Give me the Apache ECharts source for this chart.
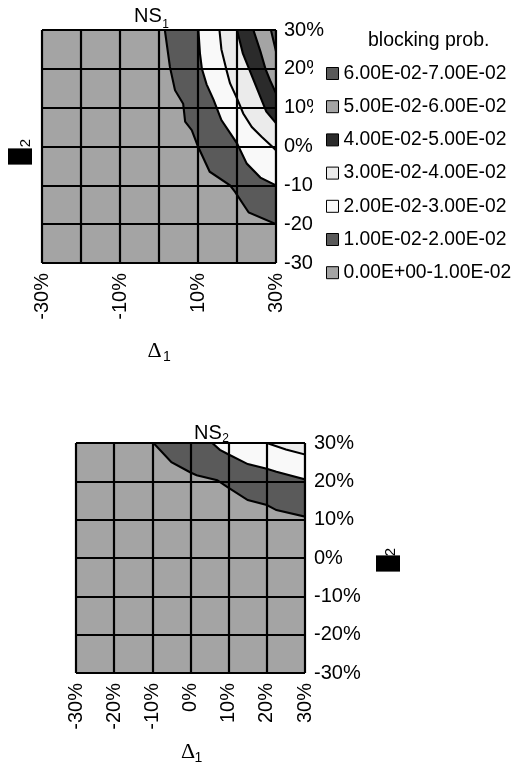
<!DOCTYPE html>
<html>
<head>
<meta charset="utf-8">
<script src="https://cdn.jsdelivr.net/npm/echarts@6/dist/echarts.min.js"></script>
<style>
html,body{margin:0;padding:0;background:#fff;}
#c{width:519px;height:766px;}
</style>
</head>
<body>
<div id="c"></div>
<script>
// ---- data ----
const bandNames = ['0.00E+00-1.00E-02','1.00E-02-2.00E-02','2.00E-02-3.00E-02','3.00E-02-4.00E-02','4.00E-02-5.00E-02','5.00E-02-6.00E-02','6.00E-02-7.00E-02'];
const bandColors = ['#a4a4a4','#5a5a5a','#f9f9f9','#ebebeb','#2b2b2b','#a4a4a4','#5a5a5a'];
const axisMin = -30, axisMax = 30, axisStep = 10;
const tickValues = [-30,-20,-10,0,10,20,30];
const ns1XLabels = ['-30%','','-10%','','10%','','30%'];
const ns2XLabels = ['-30%','-20%','-10%','0%','10%','20%','30%'];
const yLabels = ['-30%','-20%','-10%','0%','10%','20%','30%'];
// contour boundary lines (Δ1 %, Δ2 %) — level k separates band k-1 and band k
const ns1_b1 = [[1.5,30],[2.8,20.5],[4.1,14.5],[6.2,11],[6.7,6.4],[8.4,4.2],[10,0],[13,-6.5],[18.2,-10],[19.5,-11.7],[23,-17],[30,-20]];
const ns1_b2 = [[10.1,30],[10.5,24],[11,20],[12.2,16],[14,12],[16,6.8],[20,0.8],[22.5,-4.4],[26,-8],[30,-10]];
const ns1_b3 = [[15.5,30],[16,25],[17.4,19.3],[18.2,16.3],[20,12.4],[21.6,8.5],[23.8,5],[26.3,2.5],[29,0],[30,-1]];
const ns1_b4 = [[20,30],[21.5,24],[23.3,19.5],[25.5,14],[27.5,9],[30,6]];
const ns1_b5 = [[24.2,30],[26,24.5],[27.3,20],[28.5,17],[30,13.7]];
const ns1_b6 = [[28.7,30],[30,24.5]];
const ns2_b1 = [[-9.7,30],[-5,25],[0,22.3],[1.6,21.6],[7,20.3],[9.5,18.6],[15,15.1],[20,13.8],[22.5,12.5],[30,10.8]];
const ns2_b2 = [[5.7,30],[7.7,28.2],[10,27],[15,24.5],[20,23.3],[22.5,22.5],[30,20.5]];
const ns2_b3 = [[20,30],[25,28.3],[30,27]];

const FONT = "'Liberation Sans', Arial, sans-serif";
const SERIF = "'Liberation Serif', 'Times New Roman', serif";

function makeSeries(g, band, poly) {
  return {
    type: 'custom', name: bandNames[band], coordinateSystem: 'cartesian2d',
    xAxisIndex: g, yAxisIndex: g, data: [[0, 0]], silent: true, clip: true,
    itemStyle: {color: bandColors[band]},
    renderItem: function (params, api) {
      return {
        type: 'polygon',
        shape: {points: poly.map(p => api.coord(p))},
        style: {fill: bandColors[band], stroke: band === 0 ? null : '#000', lineWidth: band === 0 ? 0 : 2.1}
      };
    }
  };
}
function chartSeries(g, bounds) {
  const full = [[axisMin, axisMin], [axisMax, axisMin], [axisMax, axisMax], [axisMin, axisMax]];
  const out = [makeSeries(g, 0, full)];
  bounds.forEach((b, i) => out.push(makeSeries(g, i + 1, b.concat([[axisMax, axisMax]]))));
  return out;
}
function labelFor(arr) {
  return function (v) { const i = tickValues.indexOf(Math.round(v)); return i >= 0 ? arr[i] : ''; };
}
function xAxis(g, labels, margin) {
  return {
    gridIndex: g, type: 'value', min: axisMin, max: axisMax, interval: axisStep, z: 10,
    axisLine: {show: true, lineStyle: {color: '#000', width: 2}},
    axisTick: {show: true, length: 4, lineStyle: {color: '#000', width: 1}},
    splitLine: {show: true, lineStyle: {color: '#000', width: 2.2}},
    axisLabel: {rotate: 90, margin: margin, color: '#000', fontSize: 20, fontFamily: FONT, formatter: labelFor(labels)}
  };
}
function yAxis(g, margin) {
  return {
    gridIndex: g, type: 'value', min: axisMin, max: axisMax, interval: axisStep, position: 'right', z: 10,
    axisLine: {show: true, lineStyle: {color: '#000', width: 2}},
    axisTick: {show: true, length: 4, lineStyle: {color: '#000', width: 1}},
    splitLine: {show: true, lineStyle: {color: '#000', width: 2.2}},
    axisLabel: {margin: margin, color: '#000', fontSize: 20, fontFamily: FONT, formatter: labelFor(yLabels)}
  };
}
function txt(x, y, text, font, opts) {
  return Object.assign({type: 'text', x: x, y: y, z: 30,
    style: Object.assign({text: text, font: font, fill: '#000', align: 'center', verticalAlign: 'middle'}, (opts && opts.style) || {})},
    opts && opts.rotation ? {rotation: opts.rotation} : {});
}

const chart = echarts.init(document.getElementById('c'), null, {renderer: 'canvas'});
const legendData = bandNames.slice().reverse().map(n => {
  const i = bandNames.indexOf(n);
  return {name: n, itemStyle: {color: bandColors[i], borderColor: '#000', borderWidth: 1}};
});
chart.setOption({
  animation: false,
  backgroundColor: '#fff',
  grid: [
    {left: 42, top: 30, width: 234, height: 233},
    {left: 76, top: 443, width: 229, height: 230}
  ],
  xAxis: [xAxis(0, ns1XLabels, 10), xAxis(1, ns2XLabels, 10)],
  yAxis: [yAxis(0, 8), yAxis(1, 9)],
  legend: {
    orient: 'vertical', left: 313, top: 56, padding: [8, 8, 8, 13], backgroundColor: '#fff', z: 20,
    itemWidth: 12, itemHeight: 12, itemGap: 14.2, icon: 'rect', selectedMode: false,
    textStyle: {fontSize: 19.3, color: '#000', fontFamily: FONT},
    data: legendData
  },
  graphic: [
    {type: 'text', left: 368, top: 31, z: 30, style: {text: 'blocking prob.', font: '19.5px ' + FONT, fill: '#000'}},
    txt(148, 16, 'NS', '20px ' + FONT),
    txt(165.5, 25, '1', '12px ' + FONT),
    txt(208, 433, 'NS', '20px ' + FONT),
    txt(225.5, 439, '2', '12px ' + FONT),
    txt(154.5, 351.5, 'Δ', '22px ' + SERIF),
    txt(167, 357, '1', '14px ' + FONT),
    txt(188, 752, 'Δ', '22px ' + SERIF),
    txt(198.5, 758, '1', '14px ' + FONT),
    txt(20, 156.5, 'Δ', '19px ' + SERIF, {rotation: Math.PI / 2, style: {backgroundColor: '#000', padding: [2.5, 2]}}),
    txt(26, 143, '2', '15px ' + FONT, {rotation: Math.PI / 2}),
    txt(388, 563.5, 'Δ', '19px ' + SERIF, {rotation: Math.PI / 2, style: {backgroundColor: '#000', padding: [2.5, 2]}}),
    txt(391, 552, '2', '15px ' + FONT, {rotation: Math.PI / 2})
  ],
  series: chartSeries(0, [ns1_b1, ns1_b2, ns1_b3, ns1_b4, ns1_b5, ns1_b6])
    .concat(chartSeries(1, [ns2_b1, ns2_b2, ns2_b3]))
});
</script>
</body>
</html>
